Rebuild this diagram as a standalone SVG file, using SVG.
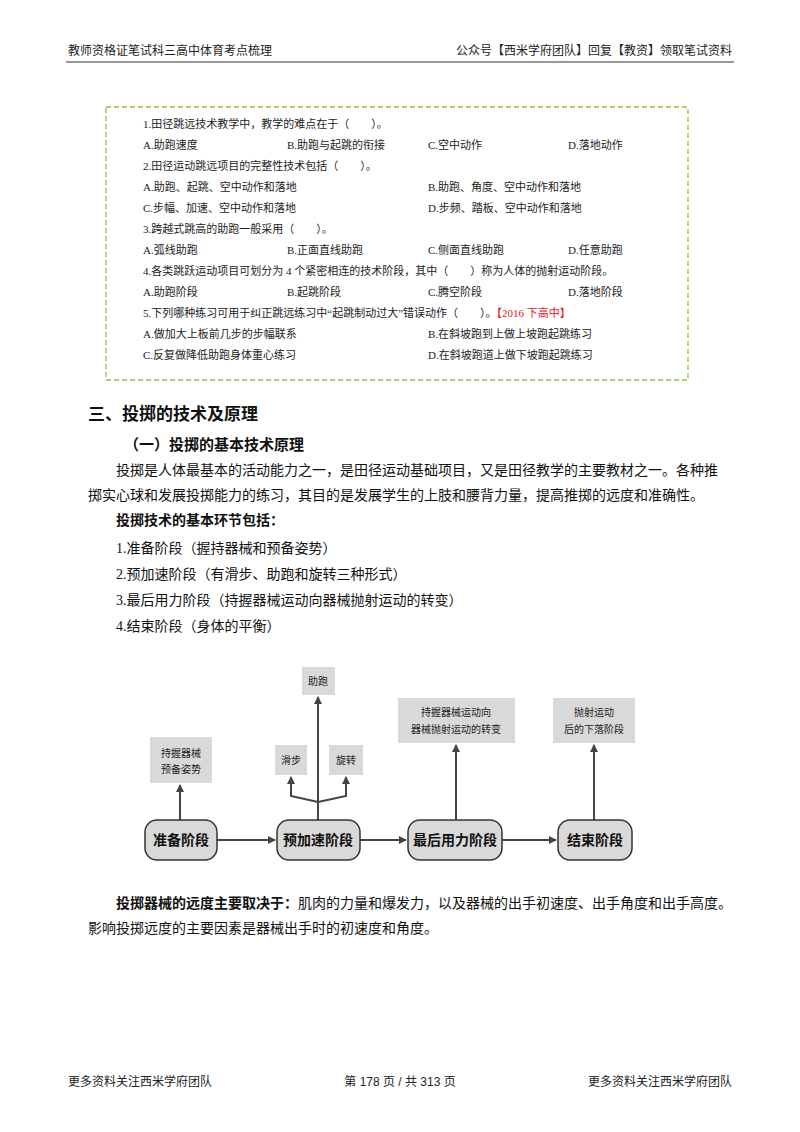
<svg xmlns="http://www.w3.org/2000/svg" width="800" height="1132" viewBox="0 0 800 1132">
<defs>
<style>
.s{font-family:"Liberation Serif","Noto Sans CJK SC",serif;font-size:11px;fill:#222}
.b{font-family:"Liberation Serif","Noto Sans CJK SC",serif;font-size:14px;fill:#111}
.h{font-family:"Liberation Sans","Noto Sans CJK SC",sans-serif;font-size:12px;fill:#222}
.n{fill:#d9d9d9;stroke:#333;stroke-width:1.5}
.g{fill:#d9d9d9}
.nt{font-family:"Noto Sans CJK SC",sans-serif;font-size:14px;font-weight:bold;fill:#111;text-anchor:middle}
.gt{font-family:"Noto Sans CJK SC",serif;font-size:10px;fill:#222;text-anchor:middle}
.c{stroke:#444;stroke-width:2;fill:none}
</style>
<marker id="a" markerWidth="8" markerHeight="8" refX="7" refY="4" orient="auto" markerUnits="userSpaceOnUse"><path d="M0,0L8,4L0,8Z" fill="#444"/></marker>
</defs>
<rect width="800" height="1132" fill="#fff"/>
<text class="h" x="68" y="55">教师资格证笔试科三高中体育考点梳理</text>
<text class="h" x="732" y="55" text-anchor="end">公众号【西米学府团队】回复【教资】领取笔试资料</text>
<line x1="66" y1="62" x2="734" y2="62" stroke="#333" stroke-width="1"/>
<rect x="106" y="107" width="582" height="273" fill="none" stroke="#8dc63f" stroke-width="1.3" stroke-dasharray="5,3"/>
<g class="s">
<text x="143" y="128">1.田径跳远技术教学中，教学的难点在于（　　）。</text>
<text x="143" y="149">A.助跑速度</text><text x="287" y="149">B.助跑与起跳的衔接</text><text x="428" y="149">C.空中动作</text><text x="568" y="149">D.落地动作</text>
<text x="143" y="170">2.田径运动跳远项目的完整性技术包括（　　）。</text>
<text x="143" y="191">A.助跑、起跳、空中动作和落地</text><text x="428" y="191">B.助跑、角度、空中动作和落地</text>
<text x="143" y="212">C.步幅、加速、空中动作和落地</text><text x="428" y="212">D.步频、踏板、空中动作和落地</text>
<text x="143" y="233">3.跨越式跳高的助跑一般采用（　　）。</text>
<text x="143" y="254">A.弧线助跑</text><text x="287" y="254">B.正面直线助跑</text><text x="428" y="254">C.侧面直线助跑</text><text x="568" y="254">D.任意助跑</text>
<text x="143" y="275">4.各类跳跃运动项目可划分为 4 个紧密相连的技术阶段，其中（　　）称为人体的抛射运动阶段。</text>
<text x="143" y="296">A.助跑阶段</text><text x="287" y="296">B.起跳阶段</text><text x="428" y="296">C.腾空阶段</text><text x="568" y="296">D.落地阶段</text>
<text x="143" y="317">5.下列哪种练习可用于纠正跳远练习中“起跳制动过大”错误动作（　　）。<tspan fill="#e02020">【2016 下高中】</tspan></text>
<text x="143" y="338">A.做加大上板前几步的步幅联系</text><text x="428" y="338">B.在斜坡跑到上做上坡跑起跳练习</text>
<text x="143" y="359">C.反复做降低助跑身体重心练习</text><text x="428" y="359">D.在斜坡跑道上做下坡跑起跳练习</text>
</g>
<text x="88" y="420" font-family="Noto Sans CJK SC,sans-serif" font-size="17" font-weight="bold" fill="#111">三、投掷的技术及原理</text>
<text x="124" y="450" font-family="Noto Sans CJK SC,sans-serif" font-size="15" font-weight="bold" fill="#111">（一）投掷的基本技术原理</text>
<g class="b">
<text x="116" y="475">投掷是人体最基本的活动能力之一，是田径运动基础项目，又是田径教学的主要教材之一。各种推</text>
<text x="88" y="500">掷实心球和发展投掷能力的练习，其目的是发展学生的上肢和腰背力量，提高推掷的远度和准确性。</text>
<text x="116" y="525" font-weight="bold">投掷技术的基本环节包括：</text>
<text x="116" y="553">1.准备阶段（握持器械和预备姿势）</text>
<text x="116" y="579">2.预加速阶段（有滑步、助跑和旋转三种形式）</text>
<text x="116" y="605">3.最后用力阶段（持握器械运动向器械抛射运动的转变）</text>
<text x="116" y="631">4.结束阶段（身体的平衡）</text>
<text x="116" y="908"><tspan font-weight="bold">投掷器械的远度主要取决于：</tspan>肌肉的力量和爆发力，以及器械的出手初速度、出手角度和出手高度。</text>
<text x="88" y="933">影响投掷远度的主要因素是器械出手时的初速度和角度。</text>
</g>
<g id="connectors">
<path class="c" d="M217,840H275" marker-end="url(#a)"/>
<path class="c" d="M360,840H406" marker-end="url(#a)"/>
<path class="c" d="M502,840H556" marker-end="url(#a)"/>
<path class="c" d="M180,820V785" marker-end="url(#a)"/>
<path class="c" d="M318,820V697" marker-end="url(#a)"/>
<path class="c" d="M318,802L291,796V777" marker-end="url(#a)"/>
<path class="c" d="M318,802L346,796V777" marker-end="url(#a)"/>
<path class="c" d="M456,820V745" marker-end="url(#a)"/>
<path class="c" d="M594,820V745" marker-end="url(#a)"/>
</g>
<g id="n1"><rect class="n" x="145" y="820" width="72" height="40" rx="12"/><text class="nt" x="181" y="845">准备阶段</text></g>
<g id="n2"><rect class="n" x="277" y="820" width="83" height="40" rx="12"/><text class="nt" x="318" y="845">预加速阶段</text></g>
<g id="n3"><rect class="n" x="408" y="820" width="94" height="40" rx="12"/><text class="nt" x="455" y="845">最后用力阶段</text></g>
<g id="n4"><rect class="n" x="558" y="820" width="74" height="40" rx="12"/><text class="nt" x="595" y="845">结束阶段</text></g>
<g id="g1"><rect class="g" x="150" y="737" width="62" height="46"/><text class="gt" x="181" y="757">持握器械</text><text class="gt" x="181" y="773">预备姿势</text></g>
<g id="g2"><rect class="g" x="302" y="667" width="33" height="28"/><text class="gt" x="318" y="685">助跑</text></g>
<g id="g3"><rect class="g" x="275" y="745" width="32" height="30"/><text class="gt" x="291" y="764">滑步</text></g>
<g id="g4"><rect class="g" x="329" y="745" width="34" height="30"/><text class="gt" x="346" y="764">旋转</text></g>
<g id="g5"><rect class="g" x="398" y="698" width="117" height="45"/><text class="gt" x="456" y="716">持握器械运动向</text><text class="gt" x="456" y="733">器械抛射运动的转变</text></g>
<g id="g6"><rect class="g" x="553" y="698" width="82" height="45"/><text class="gt" x="594" y="716">抛射运动</text><text class="gt" x="594" y="733">后的下落阶段</text></g>
<text class="h" x="68" y="1086">更多资料关注西米学府团队</text>
<text class="h" x="400" y="1086" text-anchor="middle">第 178 页 / 共 313 页</text>
<text class="h" x="732" y="1086" text-anchor="end">更多资料关注西米学府团队</text>
</svg>
